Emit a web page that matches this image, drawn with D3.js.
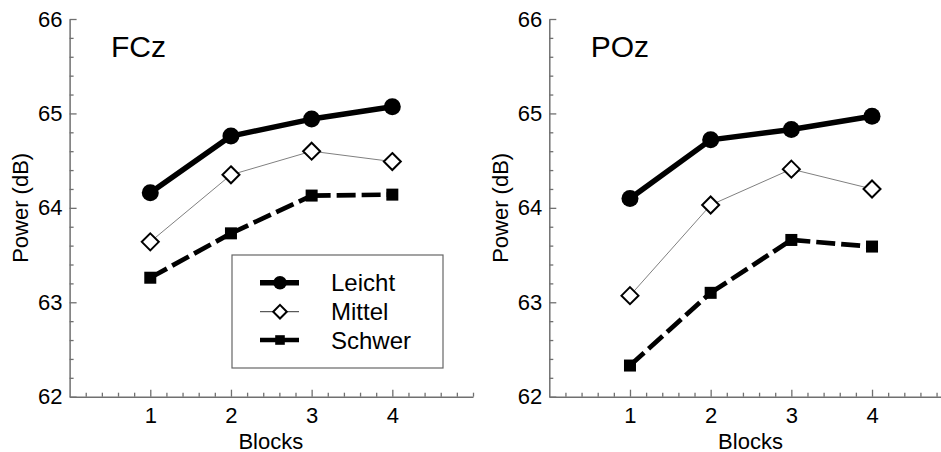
<!DOCTYPE html>
<html>
<head>
<meta charset="utf-8">
<script src="https://cdn.jsdelivr.net/npm/d3@7"></script>
<style>
  html, body { margin: 0; padding: 0; background: #fff; }
  svg { display: block; font-family: "Liberation Sans", Arial, sans-serif; }
</style>
</head>
<body>
<svg id="chart" width="941" height="452"></svg>
<script>
// ---- data ----
const blocks = [1, 2, 3, 4];
const seriesNames = ["Leicht", "Mittel", "Schwer"];
const fczLeicht = [64.16, 64.76, 64.94, 65.07];
const fczMittel = [63.64, 64.35, 64.60, 64.49];
const fczSchwer = [63.26, 63.73, 64.13, 64.14];
const pozLeicht = [64.10, 64.72, 64.83, 64.97];
const pozMittel = [63.07, 64.03, 64.41, 64.20];
const pozSchwer = [62.33, 63.10, 63.66, 63.59];
const yTicks = [62, 63, 64, 65, 66];
const xTicks = [1, 2, 3, 4];
const panelTitles = ["FCz", "POz"];
const xLabel = "Blocks";
const yLabel = "Power (dB)";

const panels = [
  { title: panelTitles[0], data: [fczLeicht, fczMittel, fczSchwer], x0: 69.6, legend: true },
  { title: panelTitles[1], data: [pozLeicht, pozMittel, pozSchwer], x0: 549.3, legend: false }
];

const svg = d3.select("#chart");
const yTop = 19, yBottom = 396.7, xWidth = 403.4;
const axisColor = "#707070";

const styles = {
  Leicht: { stroke: "#000", width: 5.5, dash: null },
  Mittel: { stroke: "#808080", width: 1, dash: null },
  Schwer: { stroke: "#000", width: 4.7, dash: "19,6" }
};

function drawMarker(g, name, cx, cy, s) {
  if (name === "Leicht") {
    g.append("circle").attr("cx", cx).attr("cy", cy).attr("r", 8.5 * s).attr("fill", "#000");
  } else if (name === "Mittel") {
    const h = 8.5 * s;
    g.append("path")
      .attr("d", `M${cx},${cy - h}L${cx + h},${cy}L${cx},${cy + h}L${cx - h},${cy}Z`)
      .attr("fill", "#fff").attr("stroke", "#000").attr("stroke-width", 2);
  } else {
    const a = 6 * s;
    g.append("rect").attr("x", cx - a).attr("y", cy - a).attr("width", 2 * a).attr("height", 2 * a).attr("fill", "#000");
  }
}

const minorY = d3.range(62, 66.001, 0.2).map(v => +v.toFixed(1)).filter(v => !yTicks.includes(v));
const minorX = d3.range(0.2, 5.001, 0.2).map(v => +v.toFixed(1)).filter(v => !xTicks.includes(v));

panels.forEach(p => {
  const x = d3.scaleLinear().domain([0, 5]).range([p.x0, p.x0 + xWidth]);
  const y = d3.scaleLinear().domain([62, 66]).range([yBottom, yTop]);
  const g = svg.append("g");

  // minor ticks
  const yMinor = g.append("g").attr("transform", `translate(${p.x0},0)`)
    .call(d3.axisLeft(y).tickValues(minorY).tickSize(-4).tickFormat(""));
  const xMinor = g.append("g").attr("transform", `translate(0,${yBottom})`)
    .call(d3.axisBottom(x).tickValues(minorX).tickSize(-4).tickFormat(""));
  [yMinor, xMinor].forEach(a => { a.select(".domain").remove(); a.selectAll("line").attr("stroke", axisColor).attr("stroke-width", 1.3); });

  // major axes
  const yAx = g.append("g").attr("transform", `translate(${p.x0},0)`)
    .call(d3.axisLeft(y).tickValues(yTicks).tickSize(-7).tickSizeOuter(0).tickPadding(7).tickFormat(d3.format("d")));
  const xAx = g.append("g").attr("transform", `translate(0,${yBottom})`)
    .call(d3.axisBottom(x).tickValues(xTicks).tickSize(-7).tickSizeOuter(0).tickPadding(11).tickFormat(d3.format("d")));
  [yAx, xAx].forEach(a => {
    a.select(".domain").attr("stroke", axisColor).attr("stroke-width", 1.5);
    a.selectAll(".tick line").attr("stroke", axisColor).attr("stroke-width", 1.3);
    a.selectAll("text").attr("font-size", 22).attr("fill", "#000").attr("font-family", "Liberation Sans, Arial, sans-serif");
  });

  // axis titles
  g.append("text").attr("x", (x.range()[0] + x.range()[1]) / 2 - 0.5).attr("y", 448.5)
    .attr("text-anchor", "middle").attr("font-size", 22).text(xLabel);
  g.append("text").attr("transform", `translate(${p.x0 - 41.6},${(yTop + yBottom) / 2}) rotate(-90)`)
    .attr("text-anchor", "middle").attr("font-size", 22).text(yLabel);

  // panel title
  g.append("text").attr("x", p.x0 + 41.4).attr("y", 57).attr("font-size", 30).text(p.title);

  // series: each segment drawn separately so dashes restart at every point
  seriesNames.forEach((name, i) => {
    const vals = p.data[i];
    const st = styles[name];
    const pts = vals.map((v, j) => [x(blocks[j]), y(v)]);
    const segs = d3.pairs(pts);
    const line = d3.line();
    g.append("g").selectAll("path").data(segs).join("path")
      .attr("d", d => line(d))
      .attr("fill", "none").attr("stroke", st.stroke).attr("stroke-width", st.width)
      .attr("stroke-dasharray", st.dash).attr("stroke-linecap", st.dash ? "butt" : "round");
  });
  seriesNames.forEach((name, i) => {
    const mg = g.append("g");
    p.data[i].forEach((v, j) => drawMarker(mg, name, x(blocks[j]), y(v), 1));
  });

  // legend
  if (p.legend) {
    const lg = g.append("g");
    lg.append("rect").attr("x", 232).attr("y", 255).attr("width", 211).attr("height", 113)
      .attr("fill", "#fff").attr("stroke", "#666").attr("stroke-width", 1.2);
    const rows = [282.7, 311.7, 340];
    seriesNames.forEach((name, i) => {
      lg.append("line").attr("x1", 260).attr("x2", 299).attr("y1", rows[i]).attr("y2", rows[i])
        .attr("stroke", name === "Mittel" ? "#333" : "#000")
        .attr("stroke-width", name === "Leicht" ? 5.5 : (name === "Schwer" ? 4.7 : 1));
      drawMarker(lg, name, 280, rows[i], 0.8);
      lg.append("text").attr("x", 331).attr("y", rows[i]).attr("dy", "0.36em")
        .attr("font-size", 24).text(name);
    });
  }
});
</script>
</body>
</html>
